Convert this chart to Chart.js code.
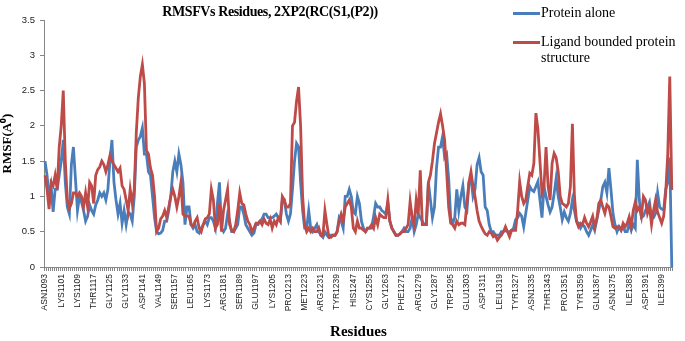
<!DOCTYPE html>
<html>
<head>
<meta charset="utf-8">
<script src="https://cdn.jsdelivr.net/npm/chart.js@4.4.1/dist/chart.umd.min.js"></script>
<style>
  body { margin: 0; background: #fff; }
  #wrap { position: relative; width: 685px; height: 341px; }
  #title { position: absolute; left: 0; width: 540px; top: 4px; text-align: center; letter-spacing: -0.4px;
           font: bold 14px "Liberation Serif", serif; color: #000; white-space: nowrap; }
  .leg { position: absolute; left: 513px; font: 14px "Liberation Serif", serif; color: #000; line-height: 16px; }
  .leg i { position: absolute; left: 0; top: 7px; width: 27px; height: 3px; }
  .leg span { display: block; margin-left: 28px; width: 146px; }
</style>
</head>
<body>
<div id="wrap">
  <canvas id="rmsf" width="685" height="341"></canvas>
  <div id="title">RMSFVs Residues, 2XP2(RC(S1,(P2))</div>
  <div id="legend"></div>
</div>
<script>
// tick labels shown on the x axis, one every 8 residues
const residueTicks = ["ASN1093", "LYS1101", "LYS1109", "THR1117", "GLY1125", "GLY1133", "ASP1141",
  "VAL1149", "SER1157", "LEU1165", "LYS1173", "ARG1181", "SER1189", "GLU1197", "LYS1205",
  "PRO1213", "MET1223", "ARG1231", "TYR1239", "HIS1247", "CYS1255", "GLY1263", "PHE1271",
  "ARG1279", "GLY1287", "TRP1295", "GLU1303", "ASP1311", "LEU1319", "TYR1327", "ASN1335",
  "THR1343", "PRO1351", "TYR1359", "GLN1367", "ASN1375", "ILE1383", "ASP1391", "ILE1399"];

const seriesNames = ["Protein alone", "Ligand bounded protein structure"];
const seriesColors = ["#4A7EBB", "#BE4B48"];

// RMSF of the protein alone
const proteinAlone = [
  1.5, 1.3, 1.0, 1.15, 0.78, 1.1, 1.1, 1.3, 1.5, 1.8,
  1.2, 0.85, 0.75, 1.45, 1.7, 1.25, 0.8, 1.0, 0.92, 0.8,
  0.65, 0.72, 0.88, 0.8, 0.75, 0.88, 0.95, 1.05, 1.0, 1.05,
  0.95, 1.1, 1.5, 1.8, 1.2, 0.95, 0.75, 0.9, 0.62, 0.8,
  0.6, 0.78, 0.75, 0.65, 1.0, 1.7, 1.8, 1.85, 1.97, 1.6,
  1.6, 1.35, 1.3, 1.0, 0.7, 0.5, 0.47, 0.48, 0.52, 0.65,
  0.65, 0.8, 1.0, 1.35, 1.5, 1.35, 1.6, 1.45, 1.2, 0.6,
  0.85, 0.85, 0.6, 0.55, 0.6, 0.5, 0.48, 0.55, 0.6, 0.65,
  0.6, 0.7, 0.7, 0.65, 0.55, 0.9, 1.2, 0.55, 0.5, 0.55,
  0.75, 0.65, 0.5, 0.5, 0.55, 0.6, 0.85, 0.85, 0.75, 0.6,
  0.55, 0.5, 0.45, 0.48, 0.6, 0.6, 0.65, 0.68, 0.75, 0.75,
  0.7, 0.7, 0.7, 0.72, 0.75, 0.7, 0.65, 0.95, 0.95, 0.75,
  0.65, 0.75, 1.1, 1.5, 1.75, 1.7, 1.2, 0.8, 0.55, 0.55,
  0.8, 0.55, 0.5, 0.55, 0.6, 0.5, 0.45, 0.42, 0.5, 0.45,
  0.42, 0.45, 0.45, 0.45, 0.5, 0.7, 0.65, 0.55, 1.0, 1.0,
  1.1, 1.0, 0.78, 0.75, 1.0, 0.9, 0.65, 0.55, 0.5, 0.55,
  0.55, 0.55, 0.72, 0.9, 0.85, 0.85, 0.8, 0.78, 0.75, 0.9,
  0.65, 0.55, 0.5, 0.45, 0.45, 0.47, 0.5, 0.55, 0.5, 0.5,
  0.55, 0.7, 0.5, 0.6, 0.75, 0.7, 0.65, 0.6, 0.6, 1.2,
  0.95, 0.7, 0.85, 1.4, 1.7, 1.7, 1.85, 1.55, 1.6, 1.25,
  0.7, 0.62, 0.7, 1.1, 0.8, 1.0, 1.15, 0.85, 0.8, 1.2,
  1.25, 1.0, 1.1, 1.45, 1.55, 1.35, 1.3, 0.85, 0.8, 0.6,
  0.5, 0.5, 0.45, 0.45, 0.45, 0.5, 0.5, 0.52, 0.5, 0.5,
  0.52, 0.55, 0.67, 0.7, 0.76, 0.72, 0.57, 0.76, 0.95, 1.14,
  1.09, 1.07, 1.14, 1.21, 0.95, 0.7, 1.14, 1.0, 0.88, 0.78,
  0.85, 1.04, 1.26, 1.0, 0.85, 0.67, 0.78, 0.7, 0.65, 0.76,
  0.95, 0.8, 0.65, 0.62, 0.55, 0.6, 0.57, 0.5, 0.45, 0.52,
  0.6, 0.52, 0.67, 0.8, 0.95, 1.14, 1.2, 1.05, 1.4, 1.1,
  0.76, 0.6, 0.5, 0.57, 0.52, 0.57, 0.5, 0.5, 0.62, 0.52,
  0.6, 0.55, 1.52, 0.95, 0.7, 0.72, 0.8, 0.85, 0.92, 0.7,
  0.7, 0.76, 1.05, 0.85, 0.82, 0.81, 1.1, 1.2, 1.55, 0.0
];

// RMSF of the ligand bound structure
const ligandBound = [
  1.3, 1.1, 0.82, 1.2, 1.15, 1.3, 1.1, 1.7, 2.0, 2.5,
  1.5, 0.95, 0.83, 0.9, 1.05, 1.05, 1.0, 1.05, 1.0, 0.85,
  1.05, 0.85, 1.2, 1.15, 0.9, 1.3, 1.38, 1.42, 1.5, 1.45,
  1.35, 1.45, 1.58, 1.5, 1.45, 1.4, 1.35, 1.4, 1.15, 1.1,
  0.95, 0.8, 1.1, 0.9, 1.1, 1.9, 2.4, 2.7, 2.87, 2.6,
  1.65, 1.6, 1.4, 1.3, 1.0, 0.5, 0.55, 0.68, 0.72, 0.8,
  0.7, 0.85, 1.0, 1.1, 1.0, 0.85, 1.0, 1.2, 0.75, 0.72,
  0.72, 0.72, 0.6, 0.58, 0.65, 0.7, 0.55, 0.5, 0.6, 0.68,
  0.7, 0.75, 1.1, 0.95, 0.55, 0.6, 0.9, 0.5, 0.8, 0.95,
  1.1, 0.6, 0.52, 0.5, 0.6, 0.8, 1.05, 0.9, 0.88, 0.75,
  0.65, 0.6, 0.5, 0.55, 0.62, 0.62, 0.65, 0.6, 0.68, 0.62,
  0.6, 0.68, 0.55, 0.65, 0.6, 0.7, 0.65, 1.0, 0.95, 0.85,
  0.85, 0.9, 2.0, 2.05, 2.35, 2.55, 2.0, 1.0, 0.6, 0.5,
  0.55, 0.5, 0.55, 0.5, 0.5, 0.55, 0.45, 0.45, 0.8, 0.6,
  0.42, 0.42, 0.45, 0.45, 0.5, 0.65, 0.75, 0.65, 0.85, 0.9,
  0.95, 0.85, 0.55, 0.5, 0.65, 0.55, 0.55, 0.52, 0.5, 0.55,
  0.55, 0.6, 0.55, 0.7, 0.6, 0.75, 0.72, 0.7, 0.7, 0.95,
  0.65, 0.55, 0.5, 0.45, 0.45, 0.47, 0.5, 0.5, 0.55, 0.6,
  0.93, 0.7, 0.6, 0.95, 0.75, 1.37, 0.6, 0.6, 0.6, 1.2,
  1.3, 1.5, 1.75, 1.9, 2.05, 2.17, 2.0, 1.8, 1.35, 0.85,
  0.62, 0.6, 0.55, 0.65, 0.6, 0.62, 0.62, 0.6, 0.9, 1.2,
  1.35, 1.15, 1.0, 0.8, 0.65, 0.58, 0.52, 0.47, 0.45, 0.5,
  0.48, 0.43, 0.45, 0.38, 0.42, 0.45, 0.5, 0.57, 0.5, 0.43,
  0.52, 0.52, 0.52, 0.8, 1.21, 1.0, 0.9, 0.95, 1.15, 1.33,
  1.3, 1.47, 2.18, 1.95, 1.5, 1.05, 1.14, 1.7, 1.15, 0.95,
  1.47, 1.61, 1.55, 1.35, 1.0, 0.9, 0.88, 0.85, 0.9, 1.14,
  2.03, 1.0, 0.65, 0.57, 0.62, 0.6, 0.7, 0.62, 0.57, 0.64,
  0.72, 0.57, 0.67, 0.9, 0.95, 0.85, 0.76, 0.88, 0.85, 0.72,
  0.57, 0.55, 0.57, 0.57, 0.52, 0.62, 0.57, 0.62, 0.71, 0.57,
  0.8, 0.92, 0.8, 0.85, 0.72, 1.0, 0.95, 0.76, 0.85, 0.6,
  0.8, 0.95, 0.78, 0.7, 0.62, 0.72, 1.05, 1.6, 2.7, 1.09
];

// only every 8th residue gets a visible label
let labels = proteinAlone.map((v, i) => i % 8 === 0 ? (residueTicks[i / 8] || "") : "");

// legend in the top right corner, like the excel one
let legendBox = document.getElementById("legend");
seriesNames.forEach((name, k) => {
  let d = document.createElement("div");
  d.className = "leg";
  d.style.top = (k === 0 ? 5 : 34) + "px";
  d.innerHTML = '<i style="background:' + seriesColors[k] + '"></i><span>' + name + '</span>';
  legendBox.appendChild(d);
});

let axisGray = "#868686";

new Chart(document.getElementById("rmsf"), {
  type: "line",
  data: {
    labels: labels,
    datasets: [
      { label: seriesNames[0], data: proteinAlone, borderColor: seriesColors[0], borderWidth: 2.8, pointRadius: 0, order: 2 },
      { label: seriesNames[1], data: ligandBound, borderColor: seriesColors[1], borderWidth: 2.8, pointRadius: 0, order: 1 }
    ]
  },
  options: {
    responsive: false,
    animation: false,
    devicePixelRatio: 1,
    layout: { padding: { top: 20, right: 2, left: 0, bottom: 0 } },
    plugins: { legend: { display: false }, tooltip: { enabled: false } },
    scales: {
      x: {
        offset: true,
        grid: { offset: true, drawOnChartArea: false, tickLength: 4, color: axisGray },
        border: { color: axisGray },
        ticks: { autoSkip: false, minRotation: 90, maxRotation: 90, padding: 3,
                 font: { family: "Liberation Sans", size: 8.5 }, color: "#222" },
        title: { display: true, text: "Residues", color: "#000", padding: 0,
                 font: { family: "Liberation Serif", size: 15, weight: "bold" } },
        afterFit: s => { s.height = 74; }
      },
      y: {
        min: 0, max: 3.5,
        grid: { drawOnChartArea: false, tickLength: 4, color: axisGray },
        border: { color: axisGray },
        ticks: { stepSize: 0.5, padding: 5, font: { family: "Liberation Sans", size: 9.5 }, color: "#222",
                 callback: v => String(v) },
        title: { display: true, text: "RMSF(A⁰)", color: "#000", padding: 0,
                 font: { family: "Liberation Serif", size: 13, weight: "bold" } },
        afterFit: s => { s.width = 44; }
      }
    }
  }
});
</script>
</body>
</html>
